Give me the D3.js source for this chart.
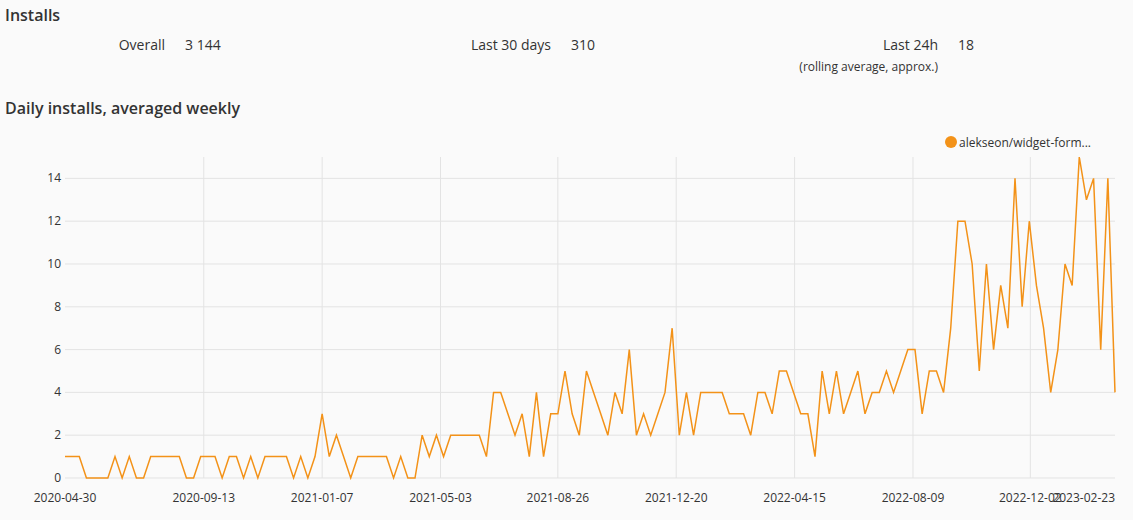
<!DOCTYPE html>
<html><head><meta charset="utf-8">
<script src="https://cdn.jsdelivr.net/npm/d3@7"></script>
<style>
body{margin:0;background:#fafafa;font-family:"Open Sans",sans-serif;color:#333;}
</style></head><body>
<svg id="c" width="1133" height="520"></svg>
<script>
const startDate = "2020-04-30";
const values = [1,1,1,0,0,0,0,1,0,1, 0,0,1,1,1,1,1,0,0,1, 1,1,0,1,1,0,1,0,1,1, 1,1,0,1,0,1,3,1,2,1, 0,1,1,1,1,1,0,1,0,0, 2,
1,2,1,2,2,2,2,2,1,4, 4,3,2,3,1,4,1,3,3,5, 3,2,5,4,3,2,4,3,6,2, 3,2,3,4,7,2,4,2,4,4, 4,4,3,3,3,2,4,4,
3,5,5,4,3,3,1,5,3,5, 3,4,5,3,4,4,5,4,5,6, 6,3,5,5,4,7,12,12,10,5, 10,6,9,7,14,8,12,9,7,4, 6,10,9,15,13,14,6,14,4];
const xTickLabels = ["2020-04-30","2020-09-13","2021-01-07","2021-05-03","2021-08-26","2021-12-20","2022-04-15","2022-08-09","2022-12-02","2023-02-23"];
const yTicks = [0,2,4,6,8,10,12,14];
const stats = [["Overall","3 144"],["Last 30 days","310"],["Last 24h","18"]];
const seriesName = "alekseon/widget-form...";

const parse = d3.timeParse("%Y-%m-%d");
const t0 = parse(startDate);
const data = values.map((v,i)=>({d:d3.timeDay.offset(t0,i*7),v}));
const svg = d3.select("#c");
const L=65,R=1115,T=157,B=478;
const x = d3.scaleTime().domain([t0, parse(xTickLabels[xTickLabels.length-1])]).range([L,R]);
const y = d3.scaleLinear().domain([0,15]).range([B,T]);

svg.append("text").attr("x",5).attr("y",21).attr("font-size",16).attr("font-weight",600).attr("fill","#333").text("Installs");
svg.append("text").attr("x",5).attr("y",114).attr("font-size",16).attr("font-weight",600).attr("fill","#333").text("Daily installs, averaged weekly");
const sx=[[165,185],[551,571],[938,958]];
stats.forEach((s,i)=>{
  svg.append("text").attr("x",sx[i][0]).attr("y",50).attr("text-anchor","end").attr("font-size",14).attr("fill","#333").text(s[0]);
  svg.append("text").attr("x",sx[i][1]).attr("y",50).attr("font-size",14).attr("fill","#333").text(s[1]);
});
svg.append("text").attr("x",938).attr("y",71).attr("text-anchor","end").attr("font-size",12).attr("fill","#333").text("(rolling average, approx.)");

const g=svg.append("g");
g.selectAll(".hg").data(yTicks).join("line").attr("x1",L).attr("x2",R).attr("y1",d=>y(d)).attr("y2",d=>y(d)).attr("stroke","#e3e3e3");
g.selectAll(".vg").data(xTickLabels.slice(1,-1)).join("line").attr("x1",d=>x(parse(d))).attr("x2",d=>x(parse(d))).attr("y1",T).attr("y2",B).attr("stroke","#e3e3e3");
g.selectAll(".yl").data(yTicks).join("text").attr("x",L-4).attr("y",d=>y(d)+4).attr("text-anchor","end").attr("font-size",12).attr("fill","#333").text(d=>d);
g.selectAll(".xl").data(xTickLabels).join("text").attr("x",d=>x(parse(d))).attr("y",502)
  .attr("text-anchor",(d,i)=>i===xTickLabels.length-1?"end":"middle").attr("font-size",12).attr("fill","#333").text(d=>d);

svg.append("path").datum(data).attr("fill","none").attr("stroke","#f39218").attr("stroke-width",1.5)
  .attr("d",d3.line().x(d=>x(d.d)).y(d=>y(d.v)));

svg.append("circle").attr("cx",951).attr("cy",142).attr("r",6).attr("fill","#f39218");
svg.append("text").attr("x",959).attr("y",146.5).attr("font-size",12).attr("fill","#333").text(seriesName);
</script></body></html>
